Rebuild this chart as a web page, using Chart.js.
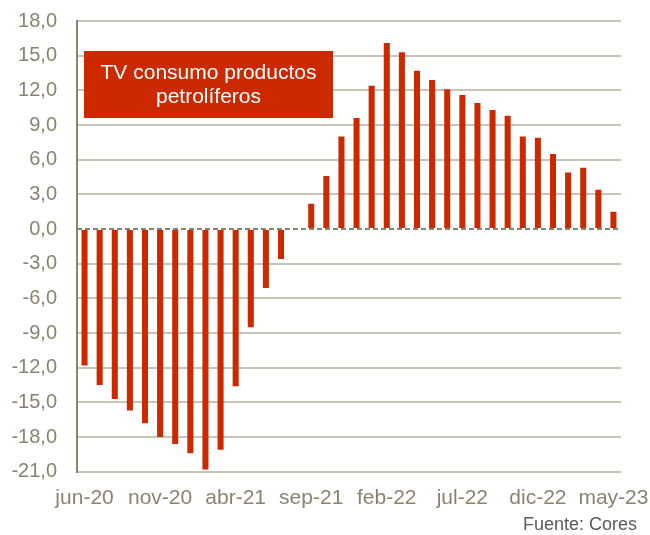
<!DOCTYPE html>
<html>
<head>
<meta charset="utf-8">
<script src="https://cdn.jsdelivr.net/npm/chart.js@4/dist/chart.umd.min.js"></script>
<style>
  body { margin: 0; background: #fff; }
  #wrap { width: 650px; height: 535px; }
</style>
</head>
<body>
<div id="wrap"><canvas id="chart" width="650" height="535"></canvas></div>
<script>
var months = ['jun-20','jul-20','ago-20','sep-20','oct-20','nov-20','dic-20',
  'ene-21','feb-21','mar-21','abr-21','may-21','jun-21','jul-21','ago-21','sep-21','oct-21','nov-21','dic-21',
  'ene-22','feb-22','mar-22','abr-22','may-22','jun-22','jul-22','ago-22','sep-22','oct-22','nov-22','dic-22',
  'ene-23','feb-23','mar-23','abr-23','may-23'];
var tvValues = [-11.8,-13.5,-14.7,-15.7,-16.8,-18.0,-18.6,
  -19.4,-20.8,-19.1,-13.6,-8.5,-5.1,-2.6,0.0,2.2,4.6,8.0,9.6,
  12.4,16.1,15.3,13.7,12.9,12.1,11.6,10.9,10.3,9.8,8.0,7.9,
  6.5,4.9,5.3,3.4,1.5];
var titleLines = ['TV consumo productos', 'petrolíferos'];
var sourceText = 'Fuente: Cores';

var axisGrey = '#8b8370';
var gridGrey = '#c9c4b8';
var barRed = '#cc2900';

var extras = {
  id: 'extras',
  afterDatasetsDraw: function(chart) {
    var c = chart.ctx, y = chart.scales.y;
    var y0 = y.getPixelForValue(0);
    c.save();
    c.strokeStyle = axisGrey;
    c.lineWidth = 2;
    c.setLineDash([5, 3]);
    c.beginPath();
    c.moveTo(chart.chartArea.left, y0);
    c.lineTo(chart.chartArea.right, y0);
    c.stroke();
    c.setLineDash([]);
    // title box
    c.fillStyle = barRed;
    c.fillRect(84, 51, 249, 67);
    c.fillStyle = '#ffffff';
    c.font = '21px "Liberation Sans", Arial, sans-serif';
    c.textAlign = 'center';
    c.textBaseline = 'middle';
    c.fillText(titleLines[0], 208.5, 73);
    c.fillText(titleLines[1], 208.5, 97);
    // source
    c.fillStyle = '#5a5a5a';
    c.font = '18px "Liberation Sans", Arial, sans-serif';
    c.textAlign = 'right';
    c.fillText(sourceText, 637, 525);
    c.restore();
  }
};

var ctx = document.getElementById('chart').getContext('2d');
var myChart = new Chart(ctx, {
  type: 'bar',
  data: {
    labels: months,
    datasets: [{
      label: 'TV',
      data: tvValues,
      backgroundColor: barRed,
      borderWidth: 0,
      barPercentage: 0.4,
      categoryPercentage: 1.0
    }]
  },
  options: {
    responsive: false,
    animation: false,
    layout: { padding: { top: 21, right: 29, bottom: 18, left: 0 } },
    plugins: { legend: { display: false }, tooltip: { enabled: false } },
    scales: {
      x: {
        grid: { display: false },
        border: { display: false },
        afterFit: function(scale) {
          scale.paddingLeft = 0;
          scale.paddingRight = 0;
        },
        ticks: {
          autoSkip: false,
          maxRotation: 0,
          color: axisGrey,
          padding: 6,
          font: { family: '"Liberation Sans", Arial, sans-serif', size: 21 },
          callback: function(v, i) { return i % 5 === 0 ? months[i] : ''; }
        }
      },
      y: {
        min: -21,
        max: 18,
        afterFit: function(scale) {
          scale.width = 77;
          scale.paddingTop = 0;
          scale.paddingBottom = 0;
        },
        border: { display: true, color: axisGrey, width: 2 },
        grid: {
          color: function(c) { return c.tick && c.tick.value === 0 ? 'rgba(0,0,0,0)' : gridGrey; },
          lineWidth: 2,
          drawTicks: false
        },
        ticks: {
          stepSize: 3,
          color: axisGrey,
          padding: 20,
          font: { family: '"Liberation Sans", Arial, sans-serif', size: 20 },
          callback: function(v) { return v.toFixed(1).replace('.', ','); }
        }
      }
    }
  },
  plugins: [extras]
});
</script>
</body>
</html>
